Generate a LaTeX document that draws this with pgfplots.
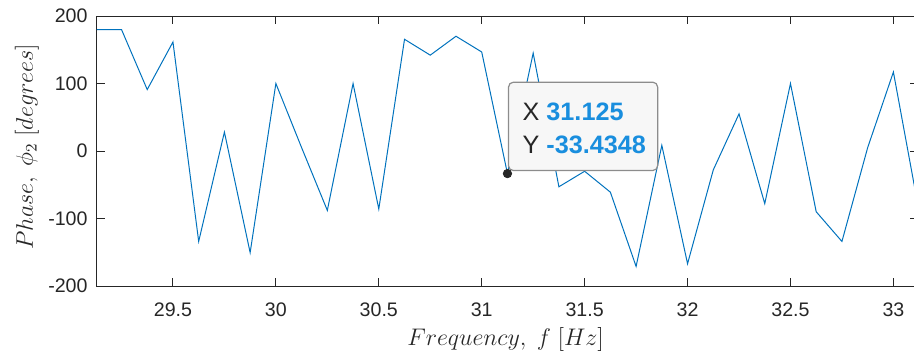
\documentclass[border=0pt]{standalone}
\usepackage{fontspec}
\setmainfont{Liberation Sans}
\usepackage{pgfplots}
\pgfplotsset{compat=1.18}
\definecolor{mlblue}{rgb}{0,0.447,0.741}
\definecolor{axgray}{rgb}{0.15,0.15,0.15}
\definecolor{tipblue}{RGB}{25,142,222}
\begin{document}
\begin{tikzpicture}
\begin{axis}[
  at={(0pt,0pt)}, anchor=south west,
  scale only axis,
  width=410.65pt, height=135pt,
  xmin=29.131, xmax=33.121,
  ymin=-200, ymax=200,
  xtick={29.5,30,30.5,31,31.5,32,32.5,33},
  ytick={-200,-100,0,100,200},
  xticklabels={29.5,30,30.5,31,31.5,32,32.5,33},
  yticklabels={-200,-100,0,100,200},
  tick align=inside,
  major tick length=4.1pt,
  axis line style={axgray, line width=0.5pt},
  every tick/.style={axgray, line width=0.5pt},
  tick label style={font=\fontsize{9.8}{11}\selectfont, text=axgray},
  xticklabel style={anchor=base, yshift=-15.3pt},
  yticklabel style={xshift=-1.2pt},
  xlabel={$Frequency,\ f\ [Hz]$},
  ylabel={$Phase,\ \phi_2\ [degrees]$},
  label style={font=\fontsize{11.7}{14}\selectfont, text=axgray},
  xlabel style={at={(axis description cs:0.5,0)}, anchor=base, yshift=-29.5pt, xshift=-1pt},
  ylabel style={at={(axis description cs:0,0.515)}, anchor=base, yshift=32pt},
  /pgf/number format/assume math mode=true,
]
\addplot[mlblue, line width=0.5pt] coordinates {
(29.125,180) (29.25,180) (29.375,91) (29.5,161.5) (29.625,-134) (29.75,28)
(29.875,-150.5) (30,100) (30.125,5) (30.25,-88) (30.375,100) (30.5,-86)
(30.625,165.5) (30.75,142) (30.875,170) (31,146.7) (31.125,-33.4348)
(31.25,145) (31.375,-53) (31.5,-30) (31.625,-61) (31.75,-171) (31.875,8.4)
(32,-167) (32.125,-28) (32.25,55) (32.375,-78) (32.5,100) (32.625,-90)
(32.75,-134) (32.875,5) (33,117) (33.125,-90)
};
\draw[rounded corners=2.5pt, draw=black!45, fill=white!97!black, line width=0.6pt]
  (axis cs:31.13,-29) rectangle (axis cs:31.855,102);
\node[anchor=base west, inner sep=0pt, font=\fontsize{12.6}{15}\selectfont, text=axgray]
  at (axis cs:31.197,45.5) {X {\bfseries\color{tipblue}31.125}};
\node[anchor=base west, inner sep=0pt, font=\fontsize{12.6}{15}\selectfont, text=axgray]
  at (axis cs:31.197,-3.4) {Y {\bfseries\color{tipblue}-33.4348}};
\addplot[only marks, mark=*, mark size=2.1pt, mark options={fill=black!85, draw=black!85}] coordinates {(31.125,-33.4348)};
\end{axis}
\pgfresetboundingbox
\path[use as bounding box] (-48.5pt,-36pt) rectangle (408.5pt,143pt);
\end{tikzpicture}
\end{document}
